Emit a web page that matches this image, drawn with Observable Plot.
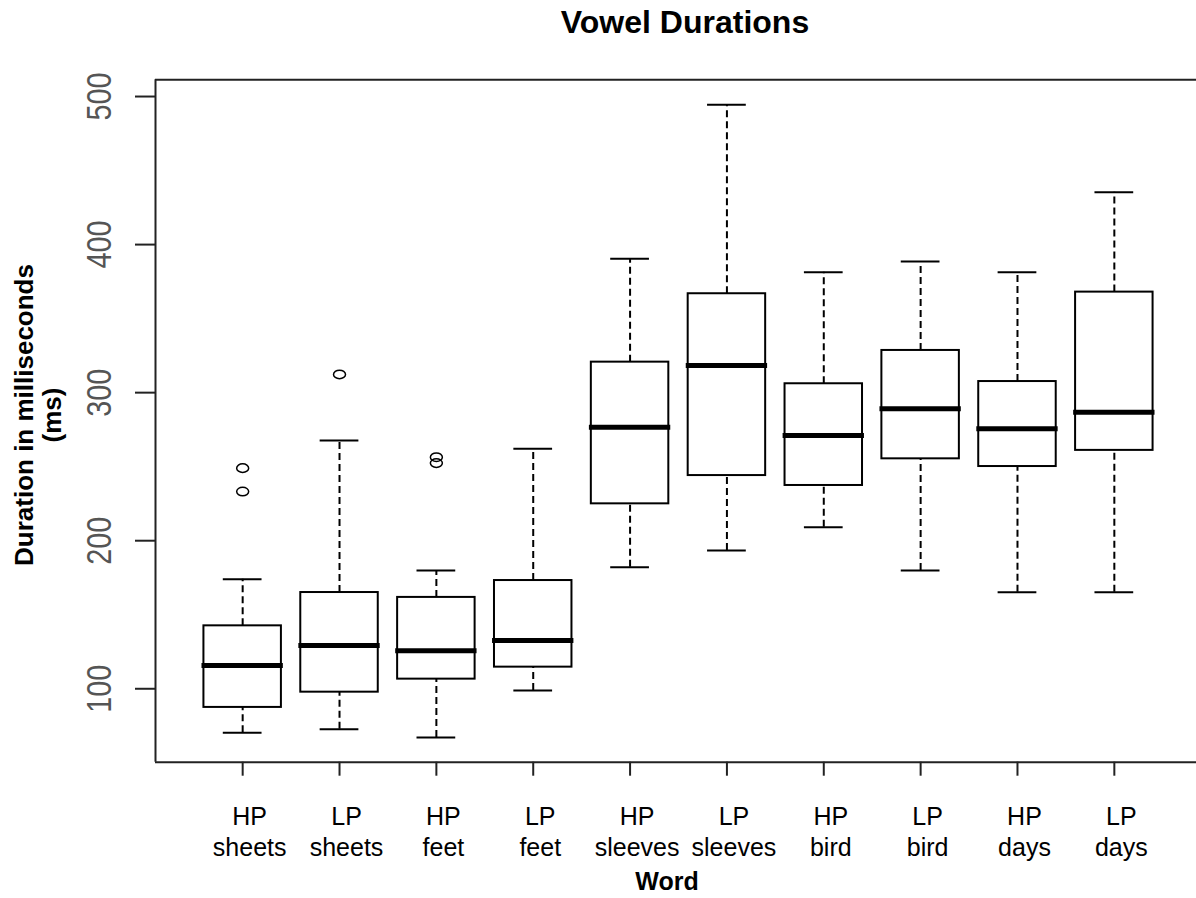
<!DOCTYPE html>
<html><head><meta charset="utf-8">
<script src="https://cdn.jsdelivr.net/npm/d3@7"></script>
<script src="https://cdn.jsdelivr.net/npm/@observablehq/plot@0.6"></script>
<style>body{margin:0;background:#fff;} svg{display:block;}</style>
</head><body><div id="chart"></div>
<script>
const words = ["HP\nsheets","LP\nsheets","HP\nfeet","LP\nfeet","HP\nsleeves","LP\nsleeves","HP\nbird","LP\nbird","HP\ndays","LP\ndays"];
const whiskerLow  = [70.3, 72.7, 67.1, 98.9, 182.1, 193.4, 209.1, 179.9, 165.2, 165.2];
const q1          = [87.4, 97.7, 106.5, 114.6, 224.9, 244.0, 237.3, 255.3, 250.1, 261.0];
const median      = [115.7, 129.2, 125.7, 132.6, 276.7, 318.3, 271.1, 289.1, 275.6, 286.8];
const q3          = [142.5, 165.0, 161.7, 173.1, 320.6, 366.8, 306.0, 328.5, 307.5, 367.9];
const whiskerHigh = [174.0, 267.7, 179.9, 262.1, 390.4, 494.4, 381.4, 388.6, 381.4, 435.4];
const outlierGroup = [1, 1, 2, 3, 3];
const outlierValue = [249.0, 233.2, 312.3, 256.4, 252.4];
const yTicks = [100, 200, 300, 400, 500];
const titleText = "Vowel Durations";
const xTitle = "Word";
const yTitle = "Duration in milliseconds\n(ms)";

const boxes = words.map((w, i) => ({pos: i + 1, word: w, lo: whiskerLow[i], q1: q1[i], med: median[i], q3: q3[i], hi: whiskerHigh[i]}));
const outliers = outlierGroup.map((g, i) => ({pos: g, v: outlierValue[i]}));
const positions = boxes.map(d => d.pos);

const yDomain = [50.4, 511.3];
const xDomain = [0.1, 10.9];
const sans = "'Liberation Sans', Arial, Helvetica, sans-serif";

// open ellipse symbol like R's pch=1 on a slightly stretched device
const ellipseSymbol = {
  draw(ctx) {
    const rx = 6, ry = 4.3, k = 0.5523;
    ctx.moveTo(rx, 0);
    ctx.bezierCurveTo(rx, ry * k, rx * k, ry, 0, ry);
    ctx.bezierCurveTo(-rx * k, ry, -rx, ry * k, -rx, 0);
    ctx.bezierCurveTo(-rx, -ry * k, -rx * k, -ry, 0, -ry);
    ctx.bezierCurveTo(rx * k, -ry, rx, -ry * k, rx, 0);
    ctx.closePath();
  }
};

const chart = Plot.plot({
  width: 1196,
  height: 898,
  marginTop: 79.3,
  marginBottom: 136.3,
  marginLeft: 155,
  marginRight: 0,
  style: {fontFamily: sans, background: "white", color: "black"},
  x: {type: "linear", domain: xDomain, range: [155, 1201]},
  y: {domain: yDomain},
  marks: [
    Plot.ruleY([yDomain[0], yDomain[1]], {stroke: "#222", strokeWidth: 2}),
    Plot.ruleX([xDomain[0]], {stroke: "#222", strokeWidth: 2}),
    Plot.ruleX(boxes, {x: "pos", y1: "q3", y2: "hi", stroke: "black", strokeWidth: 2, strokeDasharray: "7,4"}),
    Plot.ruleX(boxes, {x: "pos", y1: "lo", y2: "q1", stroke: "black", strokeWidth: 2, strokeDasharray: "7,4"}),
    Plot.ruleY(boxes, {y: "hi", x1: d => d.pos - 0.2, x2: d => d.pos + 0.2, stroke: "black", strokeWidth: 2}),
    Plot.ruleY(boxes, {y: "lo", x1: d => d.pos - 0.2, x2: d => d.pos + 0.2, stroke: "black", strokeWidth: 2}),
    Plot.rect(boxes, {x1: d => d.pos - 0.4, x2: d => d.pos + 0.4, y1: "q1", y2: "q3", fill: "white", stroke: "black", strokeWidth: 2}),
    Plot.ruleY(boxes, {y: "med", x1: d => d.pos - 0.42, x2: d => d.pos + 0.42, stroke: "black", strokeWidth: 5}),
    Plot.dot(outliers, {x: "pos", y: "v", symbol: ellipseSymbol, r: 5, stroke: "black", strokeWidth: 1.5, fill: "none"}),
    Plot.axisY(yTicks, {anchor: "left", tickSize: 20, tickPadding: 25, tickRotate: -90, fontSize: 35, fill: "#555", stroke: "#222", strokeWidth: 2, label: null, ariaLabel: "y-axis"}),
    Plot.axisX(positions, {anchor: "bottom", tickSize: 14, tickFormat: () => null, stroke: "#222", strokeWidth: 2, label: null}),
    Plot.text(boxes, {x: "pos", text: "word", frameAnchor: "bottom", dy: 41, dx: 7, lineAnchor: "top", fontSize: 25, lineHeight: 1.24, fill: "black"}),
    Plot.text([titleText], {frameAnchor: "top", dx: 9, dy: -47, lineAnchor: "bottom", textAnchor: "middle", fontSize: 32, fontWeight: "bold", fill: "black"}),
    Plot.text([xTitle], {frameAnchor: "bottom", dx: -9, dy: 128, lineAnchor: "bottom", textAnchor: "middle", fontSize: 25, fontWeight: "bold", fill: "black"}),
    Plot.text([yTitle], {frameAnchor: "left", rotate: -90, dx: -95, dy: -6, lineAnchor: "bottom", textAnchor: "middle", fontSize: 26, lineHeight: 1.05, fontWeight: "bold", fill: "black"})
  ]
});
// condense the y tick labels like the narrow font of the original
d3.select(chart).selectAll("g[aria-label='y-axis tick label'] text")
  .attr("textLength", 48).attr("lengthAdjust", "spacingAndGlyphs");
document.getElementById("chart").appendChild(chart);
</script>
</body></html>
